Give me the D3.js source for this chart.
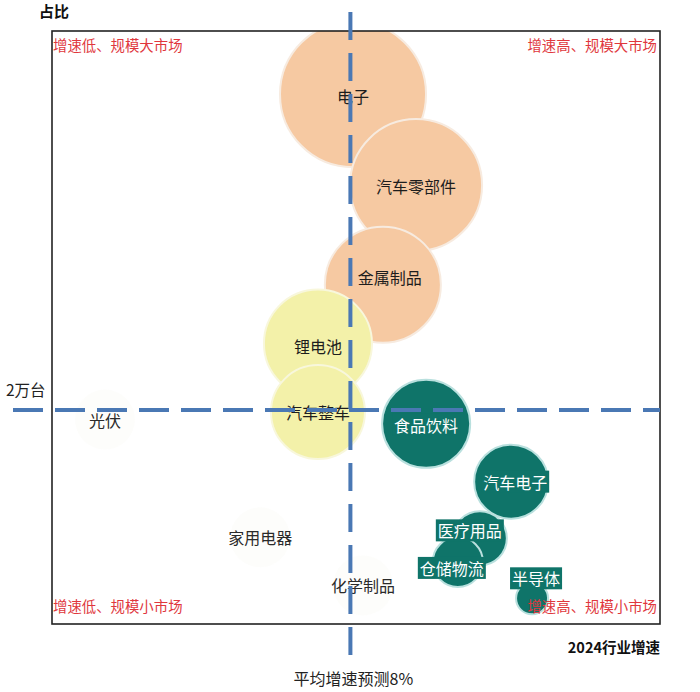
<!DOCTYPE html>
<html><head><meta charset="utf-8">
<script src="https://cdn.jsdelivr.net/npm/d3@7/dist/d3.min.js"></script>
<style>
html,body{margin:0;padding:0;background:#fff;}
svg{display:block;font-family:"Noto Sans CJK SC","Noto Sans",sans-serif;}
</style></head>
<body><svg id="chart" width="700" height="692"></svg>
<script>
// ---- data ----
const industries = ["电子","汽车零部件","金属制品","锂电池","汽车整车","食品饮料","汽车电子","医疗用品","仓储物流","半导体"];
const growth     = [8.07, 9.76, 8.87, 7.13, 7.13, 10.03, 12.31, 11.47, 10.88, 12.87];   // 2024行业增速 (%)
const share      = [4.95, 4.10, 3.17, 2.62, 1.98, 1.87, 1.33, 0.80, 0.58, 0.24];        // 占比
const marketSize = [83.3, 68.1, 52.6, 45.6, 34.5, 30.3, 21.4, 11.4, 9.8, 4.0];          // 规模
const groups     = ["big","big","big","mid","mid","small","small","small","small","small"];
const fadedNames  = ["光伏","家用电器","化学制品"];
const fadedGrowth = [1.42, 5.58, 8.34];
const fadedShare  = [1.91, 0.81, 0.36];
const avgGrowth = 8;       // 平均增速预测8%
const refShare = 2;        // 2万台
const quadrantLabels = ["增速低、规模大市场","增速高、规模大市场","增速低、规模小市场","增速高、规模小市场"];

// ---- layout ----
const L=52, R=660, T=31, B=624;
const svg = d3.select("#chart");
const x = d3.scaleLinear().domain([0,16.3]).range([L,R]);
const y = d3.scaleLinear().domain([0,5.54]).range([B,T]);
const r = d3.scaleSqrt().domain([0,100]).range([0,80]);
const fillC = {big:"#f6c9a2", mid:"#f3f1a9", small:"#0f7469"};
const strokeC = {big:"#f7ebe0", mid:"#f8f7dc", small:"#b9e0de"};
const labelOff = {"电子":[0,2],"汽车零部件":[0,1],"金属制品":[7,-8],"锂电池":[0,2],"汽车整车":[0,0],
  "食品饮料":[0,1],"汽车电子":[4,0],"医疗用品":[-10,-8],"仓储物流":[-6,6],"半导体":[4,-20]};
const fadedOff = {"光伏":[0,0],"家用电器":[0,0],"化学制品":[0,0]};

svg.append("defs").append("clipPath").attr("id","plot")
  .append("rect").attr("x",L).attr("y",T).attr("width",R-L).attr("height",B-T);

const data = industries.map((n,i)=>({name:n,g:growth[i],s:share[i],v:marketSize[i],grp:groups[i]}));
const faded = fadedNames.map((n,i)=>({name:n,g:fadedGrowth[i],s:fadedShare[i]}));

// faded bubbles
const gc = svg.append("g").attr("clip-path","url(#plot)");
gc.selectAll("circle.f").data(faded).join("circle")
  .attr("cx",d=>x(d.g)).attr("cy",d=>y(d.s)).attr("r",r(14))
  .attr("fill","#f7f7f2").attr("opacity",0.3);

// bubbles
gc.selectAll("circle.b").data(data).join("circle")
  .attr("cx",d=>x(d.g)).attr("cy",d=>y(d.s)).attr("r",d=>r(d.v))
  .attr("fill",d=>fillC[d.grp]).attr("stroke",d=>strokeC[d.grp]).attr("stroke-width",2);

// frame
svg.append("rect").attr("x",L).attr("y",T).attr("width",R-L).attr("height",B-T)
  .attr("fill","none").attr("stroke","#222").attr("stroke-width",1.6);

// labels
const lg = svg.append("g");
data.forEach(d=>{
  const o = labelOff[d.name];
  const tx = x(d.g)+o[0], ty = y(d.s)+o[1];
  const t = lg.append("text").attr("x",tx).attr("y",ty).attr("text-anchor","middle")
    .attr("dominant-baseline","central").attr("font-size",16)
    .attr("fill", d.grp==="small" ? "#fff" : "#1d1d1d").text(d.name);
  if(d.grp==="small"){
    const bb = t.node().getBBox();
    lg.insert("rect", function(){return t.node();})
      .attr("x",bb.x-2).attr("y",bb.y+1).attr("width",bb.width+4).attr("height",bb.height-2)
      .attr("fill","#0f7469");
  }
});
faded.forEach(d=>{
  const o = fadedOff[d.name];
  lg.append("text").attr("x",x(d.g)+o[0]).attr("y",y(d.s)+o[1]).attr("text-anchor","middle")
    .attr("dominant-baseline","central").attr("font-size",16).attr("fill","#2a2a2a").text(d.name);
});

// quadrant labels
const qc = "#e0373d", qf = 14.4;
svg.append("text").attr("x",L+1).attr("y",51).attr("font-size",qf).attr("fill",qc).text(quadrantLabels[0]);
svg.append("text").attr("x",R-3).attr("y",51).attr("text-anchor","end").attr("font-size",qf).attr("fill",qc).text(quadrantLabels[1]);
svg.append("text").attr("x",L+1).attr("y",612).attr("font-size",qf).attr("fill",qc).text(quadrantLabels[2]);
svg.append("text").attr("x",R-3).attr("y",612).attr("text-anchor","end").attr("font-size",qf).attr("fill",qc).text(quadrantLabels[3]);

// reference lines
const lineC = "#4a78b4";
svg.append("line").attr("x1",13).attr("x2",R).attr("y1",y(refShare)).attr("y2",y(refShare))
  .attr("stroke",lineC).attr("stroke-width",4).attr("stroke-dasharray","30,12");
svg.append("line").attr("x1",x(avgGrowth)).attr("x2",x(avgGrowth)).attr("y1",12).attr("y2",667)
  .attr("stroke",lineC).attr("stroke-width",4).attr("stroke-dasharray","28,13");

// axis titles
svg.append("text").attr("x",39).attr("y",17).attr("font-size",15).attr("font-weight","bold").attr("fill","#111").text("占比");
svg.append("text").attr("x",R).attr("y",653).attr("text-anchor","end").attr("font-size",14.5).attr("font-weight","bold").attr("fill","#111").text("2024行业增速");
svg.append("text").attr("x",6).attr("y",396).attr("font-size",15.5).attr("fill","#222").text(refShare+"万台");
svg.append("text").attr("x",x(avgGrowth)+3).attr("y",685).attr("text-anchor","middle").attr("font-size",16).attr("fill","#222").text("平均增速预测"+avgGrowth+"%");
</script></body></html>
